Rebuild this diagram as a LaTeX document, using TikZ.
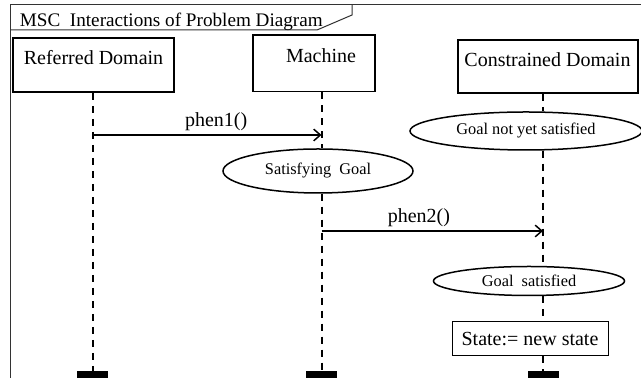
\documentclass[tikz,border=0pt]{standalone}
\usepackage{fontspec}
\setmainfont{Liberation Serif}
\usetikzlibrary{shapes.geometric,arrows.meta}

\begin{document}
\begin{tikzpicture}[x=0.6pt,y=-0.6pt,
	every node/.style={font=\fontsize{12}{14}\selectfont},
	box/.style={draw,line width=1pt,inner sep=0pt},
	cond/.style={draw,ellipse,line width=0.9pt,inner sep=0pt,font=\fontsize{9.8}{11}\selectfont},
	lifeline/.style={line width=1.2pt,dash pattern=on 4.2pt off 3.6pt},
	msg/.style={line width=0.9pt,-{Straight Barb[length=4pt,width=7pt]}},
	endbar/.style={fill,inner sep=0pt,minimum width=18.6pt,minimum height=6pt}]
	\useasboundingbox (0,0) rectangle (641,378);
	\clip (0,0) rectangle (641,378);
	%    frame and title tab
	\draw[line width=0.6pt,black!80] (10,378) -- (10,5) -- (641,5);
	\draw[line width=0.6pt,black!80] (10,30) -- (317,30) -- (352,15) -- (352,5);
	\node[anchor=base west,font=\fontsize{11.5}{13}\selectfont] (title) at (14,27) {MSC~ Interactions of Problem Diagram};

	\node[box,minimum width=96.6pt,minimum height=32.4pt] (rd) at (93.5,65) {};
	\node[box,minimum width=73.2pt,minimum height=34pt] (mc) at (314,63.3) {};
	\node[box,minimum width=108pt,minimum height=31.8pt] (cd) at (548,66.5) {};
	\node[anchor=base] (rd name) at (93.5,65) {Referred Domain};
	\node[anchor=base] (mc name) at (321,63) {Machine};
	\node[anchor=base] (cd name) at (547.5,67) {Constrained Domain};

	\node[endbar] (rd end) at (92.5,376) {};
	\node[endbar] (mc end) at (321.5,376) {};
	\node[endbar] (cd end) at (543,376) {};

	\node[cond,minimum width=139.2pt,minimum height=22.8pt] (gn) at (526,131) {Goal not yet satisfied};
	\node[cond,minimum width=114pt,minimum height=26.4pt] (sg) at (318,171) {Satisfying~ Goal};
	\node[cond,minimum width=114.6pt,minimum height=17.4pt] (gs) at (529,281) {Goal~ satisfied};
	\node[draw,line width=0.6pt,minimum width=93.6pt,minimum height=20.4pt] (st) at (530,339) {State:= new state};

	\draw[lifeline] (rd.south -| rd end) -- (rd end.north);
	\draw[lifeline] (mc.south -| mc end) -- (sg.north -| mc end);
	\draw[lifeline] (sg.south -| mc end) -- (mc end.north);
	\draw[lifeline] (cd.south -| cd end) -- (gn.north -| cd end);
	\draw[lifeline] (gn.south -| cd end) -- (gs.north -| cd end);
	\draw[lifeline] (gs.south -| cd end) -- (st.north -| cd end);
	\draw[lifeline] (st.south -| cd end) -- (cd end.north);

	\coordinate (rd m1) at (92.5,135);
	\coordinate (mc m1) at (321.5,135);
	\coordinate (mc m2) at (321.5,231);
	\coordinate (cd m2) at (543,231);
	\draw[msg] (rd m1) -- node[above,pos=0.54,inner sep=2pt] (phen1) {phen1()} (mc m1);
	\draw[msg] (mc m2) -- node[above,pos=0.44,inner sep=2pt] (phen2) {phen2()} (cd m2);
\end{tikzpicture}
\end{document}
